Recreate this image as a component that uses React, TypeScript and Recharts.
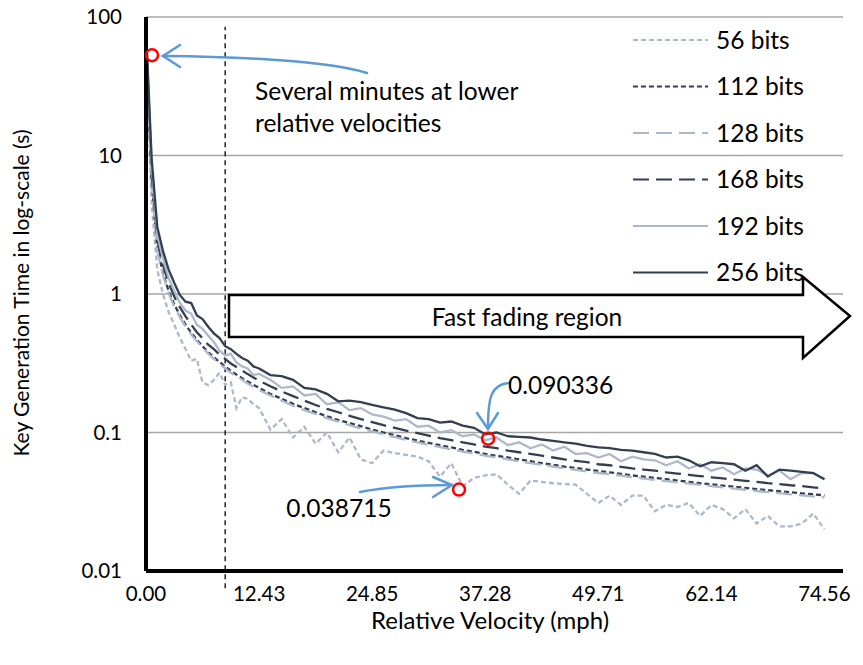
import { LineChart, Line, XAxis, YAxis, CartesianGrid, ReferenceLine, ReferenceDot, Legend } from 'recharts';

const FONT = "Lato, 'Liberation Sans', sans-serif";
const DARK = '#333F50';
const LIGHT = '#ADB9CA';
const BLUE = '#5B9BD5';

// relative velocity (mph), one point per 1 km/h up to 20 km/h, then every 2 km/h
const velocity = [
    0, 0.62, 1.24, 1.86, 2.49, 3.11, 3.73, 4.35, 4.97, 5.59,
    6.21, 6.84, 7.46, 8.08, 8.70, 9.32, 9.94, 10.56, 11.18, 11.81,
    12.43,
    13.67, 14.91, 16.16, 17.40, 18.64, 19.88, 21.13, 22.37, 23.61, 24.85,
    26.10, 27.34, 28.58, 29.83, 31.07, 32.31, 33.55, 34.80, 36.04, 37.28,
    38.52, 39.77, 41.01, 42.25, 43.50, 44.74, 45.98, 47.22, 48.47, 49.71,
    50.95, 52.20, 53.44, 54.68, 55.92, 57.17, 58.41, 59.65, 60.90, 62.14,
    63.38, 64.62, 65.87, 67.11, 68.35, 69.60, 70.84, 72.08, 73.33, 74.56,
];

const bits56 = [
    60, 4.5, 1.5, 1.0, 0.74, 0.6, 0.48, 0.40, 0.33, 0.34,
    0.23, 0.22, 0.24, 0.27, 0.22, 0.23, 0.15, 0.18, 0.175, 0.16,
    0.15,
    0.105, 0.125, 0.092, 0.11, 0.083, 0.10, 0.072, 0.092, 0.064, 0.060,
    0.074, 0.071, 0.069, 0.067, 0.062, 0.048, 0.060, 0.041, 0.047, 0.049,
    0.050, 0.042, 0.036, 0.045, 0.044, 0.043, 0.0425, 0.042, 0.036, 0.031,
    0.035, 0.030, 0.035, 0.035, 0.027, 0.030, 0.029, 0.031, 0.025, 0.030,
    0.028, 0.024, 0.028, 0.022, 0.025, 0.021, 0.021, 0.022, 0.026, 0.020,
];

const bits112 = [
    70, 6.5, 2.15, 1.42, 1.05, 0.84, 0.70, 0.60, 0.525, 0.468,
    0.42, 0.38, 0.35, 0.323, 0.30, 0.279, 0.262, 0.247, 0.233, 0.221,
    0.21,
    0.19, 0.175, 0.161, 0.15, 0.14, 0.131, 0.123, 0.117, 0.111, 0.105,
    0.100, 0.0955, 0.091, 0.0875, 0.084, 0.081, 0.078, 0.075, 0.0725, 0.070,
    0.068, 0.066, 0.064, 0.062, 0.060, 0.0585, 0.0568, 0.0554, 0.054, 0.0528,
    0.0515, 0.0503, 0.049, 0.048, 0.047, 0.046, 0.045, 0.044, 0.043, 0.0422,
    0.0414, 0.0406, 0.0398, 0.039, 0.0383, 0.0377, 0.037, 0.0364, 0.0358, 0.0352,
];

const bits128 = [
    68, 6.2, 2.05, 1.37, 1.01, 0.81, 0.68, 0.58, 0.51, 0.455,
    0.41, 0.37, 0.34, 0.313, 0.29, 0.27, 0.254, 0.24, 0.226, 0.214,
    0.203,
    0.185, 0.17, 0.156, 0.145, 0.136, 0.127, 0.12, 0.113, 0.107, 0.102,
    0.097, 0.0925, 0.0885, 0.085, 0.0815, 0.0785, 0.0755, 0.0728, 0.0703, 0.068,
    0.066, 0.064, 0.062, 0.060, 0.0584, 0.0568, 0.0551, 0.0537, 0.0523, 0.051,
    0.050, 0.0488, 0.0476, 0.0465, 0.0455, 0.0445, 0.0436, 0.0427, 0.0418, 0.041,
    0.0402, 0.0394, 0.0386, 0.0378, 0.0371, 0.0365, 0.0358, 0.0352, 0.0346, 0.034,
];

const bits168 = [
    75, 7.5, 2.45, 1.62, 1.2, 0.96, 0.80, 0.69, 0.60, 0.53,
    0.48, 0.43, 0.40, 0.365, 0.34, 0.315, 0.297, 0.28, 0.264, 0.25,
    0.237,
    0.216, 0.198, 0.183, 0.170, 0.158, 0.148, 0.140, 0.132, 0.125, 0.119,
    0.113, 0.108, 0.103, 0.099, 0.095, 0.091, 0.088, 0.085, 0.082, 0.079,
    0.077, 0.074, 0.072, 0.070, 0.068, 0.066, 0.064, 0.0625, 0.061, 0.059,
    0.058, 0.0565, 0.055, 0.054, 0.053, 0.0515, 0.0505, 0.0495, 0.0485, 0.0475,
    0.0466, 0.0457, 0.0448, 0.044, 0.0431, 0.0424, 0.0416, 0.041, 0.0401, 0.0396,
];

const bits192 = [
    78, 8.5, 2.7, 1.8, 1.3, 1.05, 0.86, 0.76, 0.72, 0.60,
    0.56, 0.50, 0.45, 0.39, 0.36, 0.37, 0.32, 0.30, 0.29, 0.26,
    0.265,
    0.24, 0.21, 0.215, 0.185, 0.19, 0.16, 0.165, 0.145, 0.15, 0.135,
    0.13, 0.122, 0.125, 0.11, 0.112, 0.10, 0.104, 0.094, 0.097, 0.088,
    0.092, 0.081, 0.085, 0.077, 0.082, 0.074, 0.079, 0.070, 0.071, 0.066,
    0.070, 0.062, 0.067, 0.064, 0.063, 0.058, 0.062, 0.055, 0.059, 0.053,
    0.056, 0.050, 0.055, 0.054, 0.049, 0.053, 0.046, 0.051, 0.051, 0.046,
];

const bits256 = [
    82, 9.5, 3.05, 2.05, 1.5, 1.2, 0.98, 0.88, 0.86, 0.70,
    0.66, 0.58, 0.52, 0.48, 0.42, 0.40, 0.37, 0.345, 0.33, 0.30,
    0.29,
    0.26, 0.255, 0.24, 0.21, 0.205, 0.19, 0.168, 0.17, 0.166, 0.158,
    0.152, 0.146, 0.138, 0.127, 0.125, 0.118, 0.12, 0.112, 0.108, 0.097,
    0.100, 0.094, 0.093, 0.092, 0.089, 0.087, 0.085, 0.083, 0.080, 0.078,
    0.077, 0.075, 0.074, 0.072, 0.070, 0.066, 0.067, 0.063, 0.057, 0.061,
    0.060, 0.059, 0.053, 0.058, 0.048, 0.054, 0.053, 0.052, 0.051, 0.046,
];

const xTicks = [0, 12.43, 24.85, 37.28, 49.71, 62.14, 74.56];
const yTicks = [0.01, 0.1, 1, 10, 100];

const SERIES = [
    { key: 'b56', name: '56 bits', values: bits56, color: LIGHT, dash: '5 3' },
    { key: 'b112', name: '112 bits', values: bits112, color: DARK, dash: '5 3' },
    { key: 'b128', name: '128 bits', values: bits128, color: LIGHT, dash: '16 7' },
    { key: 'b168', name: '168 bits', values: bits168, color: DARK, dash: '16 7' },
    { key: 'b192', name: '192 bits', values: bits192, color: LIGHT, dash: undefined },
    { key: 'b256', name: '256 bits', values: bits256, color: DARK, dash: undefined },
];

const data = velocity.map((v, i) => {
    const row: Record<string, number> = { v };
    SERIES.forEach(s => { row[s.key] = s.values[i]; });
    return row;
});

const renderLegend = () => (
    <svg width={200} height={290}>
        {SERIES.map((s, i) => (
            <g key={s.key} transform={`translate(0, ${i * 46.5})`}>
                <line x1={3} x2={78} y1={18} y2={18} stroke={s.color} strokeWidth={2} strokeDasharray={s.dash} />
                <text x={86} y={26.5} fontSize={24.5} fontFamily={FONT} fill="#000">{s.name}</text>
            </g>
        ))}
    </svg>
);

export default function App() {
    return (
        <div style={{ position: 'absolute', left: 0, top: 0, width: 863, height: 665, background: '#fff' }}>
            <LineChart width={863} height={665} data={data} margin={{ top: 17, right: 20, left: 0, bottom: 0 }}>
                <CartesianGrid vertical={false} stroke="#a6a6a6" strokeWidth={1.3} />
                <XAxis
                    dataKey="v"
                    type="number"
                    domain={[0, 76.6]}
                    ticks={xTicks}
                    allowDataOverflow
                    tickFormatter={(t: number) => t.toFixed(2)}
                    axisLine={{ stroke: '#000', strokeWidth: 4 }}
                    tickLine={false}
                    tickSize={0}
                    tickMargin={15}
                    height={94}
                    tick={{ fill: '#000', fontSize: 20.5, fontFamily: FONT }}
                />
                <YAxis
                    type="number"
                    scale="log"
                    domain={[0.01, 100]}
                    ticks={yTicks}
                    allowDataOverflow
                    tickFormatter={(t: number) => String(t)}
                    axisLine={{ stroke: '#000', strokeWidth: 4 }}
                    tickLine={false}
                    tickSize={0}
                    tickMargin={24}
                    width={146}
                    tick={{ fill: '#000', fontSize: 20.5, fontFamily: FONT }}
                />
                <ReferenceLine
                    segment={[{ x: 8.7, y: 0.0075 }, { x: 8.7, y: 85 }]}
                    stroke="#000"
                    strokeWidth={1.3}
                    strokeDasharray="5 4"
                    ifOverflow="visible"
                />
                {SERIES.map(s => (
                    <Line
                        key={s.key}
                        dataKey={s.key}
                        name={s.name}
                        type="linear"
                        stroke={s.color}
                        strokeWidth={2.3}
                        strokeDasharray={s.dash}
                        dot={false}
                        isAnimationActive={false}
                    />
                ))}
                <ReferenceDot x={0.66} y={53} r={6} fill="none" stroke="#ff0000" strokeWidth={2.5} ifOverflow="visible" />
                <ReferenceDot x={37.6} y={0.0903} r={6} fill="none" stroke="#ff0000" strokeWidth={2.5} ifOverflow="visible" />
                <ReferenceDot x={34.4} y={0.0387} r={6} fill="none" stroke="#ff0000" strokeWidth={2.5} ifOverflow="visible" />
                <Legend
                    layout="vertical"
                    align="center"
                    verticalAlign="middle"
                    content={renderLegend}
                    wrapperStyle={{ position: 'absolute', left: 630, top: 22, width: 200, height: 290 }}
                />
            </LineChart>
            <svg width={863} height={665} style={{ position: 'absolute', left: 0, top: 0, pointerEvents: 'none' }}>
                <g fontFamily={FONT} fill="#000">
                    <text transform="translate(29, 293) rotate(-90)" textAnchor="middle" fontSize={21}>Key Generation Time in log-scale (s)</text>
                    <text x={490} y={629} textAnchor="middle" fontSize={24}>Relative Velocity (mph)</text>
                </g>
                {/* fast fading block arrow */}
                <polygon
                    points="229,295 803,295 803,277 850,316 803,358 803,337 229,337"
                    fill="#fff"
                    stroke="#000"
                    strokeWidth={2.5}
                />
                <text x={527} y={326} textAnchor="middle" fontSize={24.5} fontFamily={FONT}>Fast fading region</text>

                {/* callouts */}
                <g fill="none" stroke={BLUE} strokeWidth={2.5} strokeLinecap="round">
                    <path d="M367,73 C330,62 260,57 163,56" />
                    <path d="M180,45 L163,56 L180,67" />
                    <path d="M508,383 C492,385 488,395 488,428" />
                    <path d="M477,413 L488,429 L498,413" />
                    <path d="M360,492 C390,486 420,485 452,485" />
                    <path d="M433,477 L452,485 L433,497" />
                </g>
                <g fontFamily={FONT} fontSize={24.5} fill="#000">
                    <text x={255} y={100}>Several minutes at lower</text>
                    <text x={255} y={132}>relative velocities</text>
                    <text x={508} y={394}>0.090336</text>
                    <text x={339} y={517} textAnchor="middle">0.038715</text>
                </g>
            </svg>
        </div>
    );
}
